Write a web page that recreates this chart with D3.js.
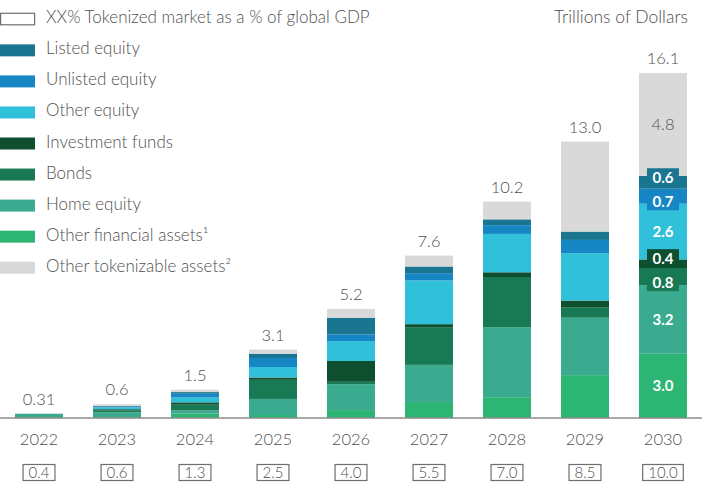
<!DOCTYPE html>
<html><head><meta charset="utf-8">
<script src="https://cdn.jsdelivr.net/npm/d3@7"></script>
<style>
body{margin:0;background:#fff}
svg{display:block}
text{font-family:Lato,"Open Sans",sans-serif}
</style>
</head><body>
<svg id="c" width="702" height="482"></svg>
<script>
const years = ["2022","2023","2024","2025","2026","2027","2028","2029","2030"];
const totalLabels = ["0.31","0.6","1.5","3.1","5.2","7.6","10.2","13.0","16.1"];
const gdpLabels = ["0.4","0.6","1.3","2.5","4.0","5.5","7.0","8.5","10.0"];

// stacked bottom -> top
const otherFinancial   = [0.00,0.00,0.20,0.14,0.37,0.75,0.97,2.00,3.0];
const homeEquity       = [0.20,0.27,0.15,0.75,1.21,1.73,3.27,2.68,3.2];
const bonds            = [0.00,0.08,0.27,0.89,0.11,1.76,2.34,0.47,0.8];
const investmentFunds  = [0.00,0.06,0.11,0.11,0.97,0.14,0.22,0.33,0.4];
const otherEquity      = [0.00,0.09,0.23,0.49,0.93,2.04,1.79,2.21,2.6];
const unlistedEquity   = [0.00,0.03,0.17,0.42,0.31,0.34,0.41,0.62,0.7];
const listedEquity     = [0.00,0.03,0.08,0.20,0.78,0.31,0.27,0.39,0.6];
const otherTokenizable = [0.00,0.08,0.11,0.19,0.41,0.51,0.83,4.20,4.8];

const seriesNames = ["Other financial assets¹","Home equity","Bonds","Investment funds","Other equity","Unlisted equity","Listed equity","Other tokenizable assets²"];
const seriesValues = [otherFinancial,homeEquity,bonds,investmentFunds,otherEquity,unlistedEquity,listedEquity,otherTokenizable];
const seriesColors = ["#2db574","#3aab8e","#187a55","#0e4f30","#30c0da","#1686c5","#1a7590","#d9d9d9"];
const legendOrder = ["Listed equity","Unlisted equity","Other equity","Investment funds","Bonds","Home equity","Other financial assets¹","Other tokenizable assets²"];
const legendTitle = "XX% Tokenized market as a % of global GDP";
const unitLabel = "Trillions of Dollars";

const textColor = "#505050";
const svg = d3.select("#c");

const keys = seriesNames;
const rows = years.map((yr,i)=>{const o={year:yr}; keys.forEach((k,j)=>o[k]=seriesValues[j][i]); return o;});
const stacked = d3.stack().keys(keys)(rows);

const x = d3.scaleBand().domain(years).range([0,702]).paddingInner(30/78).paddingOuter(0.1925);
const y = d3.scaleLinear().domain([0,16.1]).range([418,73]);
const color = d3.scaleOrdinal().domain(keys).range(seriesColors);

// bars
svg.append("g").selectAll("g").data(stacked).join("g")
  .attr("fill",d=>color(d.key))
  .selectAll("rect").data(d=>d).join("rect")
  .attr("x",d=>x(d.data.year))
  .attr("width",x.bandwidth())
  .attr("y",d=>y(d[1]))
  .attr("height",d=>Math.max(0,y(d[0])-y(d[1])));

// baseline
svg.append("line").attr("x1",0).attr("x2",702).attr("y1",y(0)).attr("y2",y(0))
  .attr("stroke","#8c8c8c").attr("stroke-width",1.5);

// totals
const topLayer = stacked[stacked.length-1];
svg.append("g").selectAll("text").data(years).join("text")
  .attr("x",d=>x(d)+x.bandwidth()/2)
  .attr("y",(d,i)=>y(topLayer[i][1])-9)
  .attr("text-anchor","middle").attr("font-size",16.5).attr("font-weight",300)
  .attr("fill",textColor).text((d,i)=>totalLabels[i]);

// x axis labels
const xAxis = d3.axisBottom(x).tickSize(0).tickPadding(0);
const gx = svg.append("g").attr("transform","translate(0,430)").call(xAxis);
gx.select(".domain").remove();
gx.selectAll("text").attr("font-size",16.5).attr("font-weight",300).attr("fill",textColor)
  .attr("font-family","Lato,sans-serif").attr("dy","0.91em");

// gdp boxes
const gb = svg.append("g").selectAll("g").data(years).join("g")
  .attr("transform",d=>`translate(${x(d)+x.bandwidth()/2},0)`);
gb.append("text").attr("y",477.7).attr("text-anchor","middle")
  .attr("font-size",15).attr("font-weight",300).attr("fill",textColor)
  .text((d,i)=>gdpLabels[i]);
gb.each(function(){
  const g=d3.select(this); const w=g.select("text").node().getComputedTextLength();
  g.insert("rect","text").attr("x",-w/2-5.5).attr("y",464.5).attr("width",w+11).attr("height",16)
   .attr("fill","none").attr("stroke","#6e6e6e").attr("stroke-width",1.2);
});

// 2030 segment labels
const last = years.length-1;
const segs = stacked.map(s=>({key:s.key,y0:y(s[last][0]),y1:y(s[last][1]),v:s[last][1]-s[last][0]}));
segs.forEach(s=>{s.cy=(s.y0+s.y1)/2; s.h=s.y0-s.y1;});
const minGap=24;
for(let it=0;it<20;it++){
  const arr=[...segs].sort((a,b)=>a.cy-b.cy);
  for(let i=0;i<arr.length-1;i++){
    const d=arr[i+1].cy-arr[i].cy;
    if(d<minGap){const m=(minGap-d)/2; arr[i].cy-=m; arr[i+1].cy+=m;}
  }
}
const cx = x(years[last])+x.bandwidth()/2;
const lg = svg.append("g").selectAll("g").data(segs).join("g")
  .attr("transform",d=>`translate(${cx},${d.cy})`);
lg.filter(d=>d.h<22).append("rect").attr("x",-16).attr("y",-9).attr("width",32).attr("height",18)
  .attr("fill",d=>color(d.key));
lg.append("text").attr("text-anchor","middle").attr("dy","0.36em")
  .attr("font-size",d=>d.key===keys[keys.length-1]?16.5:15)
  .attr("font-weight",d=>d.key===keys[keys.length-1]?300:700)
  .attr("fill",d=>d.key===keys[keys.length-1]?textColor:"#fff")
  .text(d=>d3.format(".1f")(d.v));

// legend
const legItems=[legendTitle,...legendOrder];
const ly = d3.scalePoint().domain(legItems).range([23.3,271.7]);
const leg = svg.append("g").selectAll("g").data(legItems).join("g")
  .attr("transform",d=>`translate(0,${ly(d)})`);
leg.append("rect").attr("x",d=>d===legendTitle?0.6:0).attr("y",-10)
  .attr("width",d=>d===legendTitle?34:35).attr("height",d=>d===legendTitle?11.5:12)
  .attr("fill",d=>d===legendTitle?"#fff":color(d))
  .attr("stroke",d=>d===legendTitle?"#6e6e6e":"none").attr("stroke-width",1.2);
leg.append("text").attr("x",46).attr("font-size",17).attr("font-weight",300)
  .attr("fill",textColor).text(d=>d);

svg.append("text").attr("x",688).attr("y",23.3).attr("text-anchor","end")
  .attr("font-size",17.5).attr("font-weight",300).attr("fill",textColor).text(unitLabel);
</script>
</body></html>
